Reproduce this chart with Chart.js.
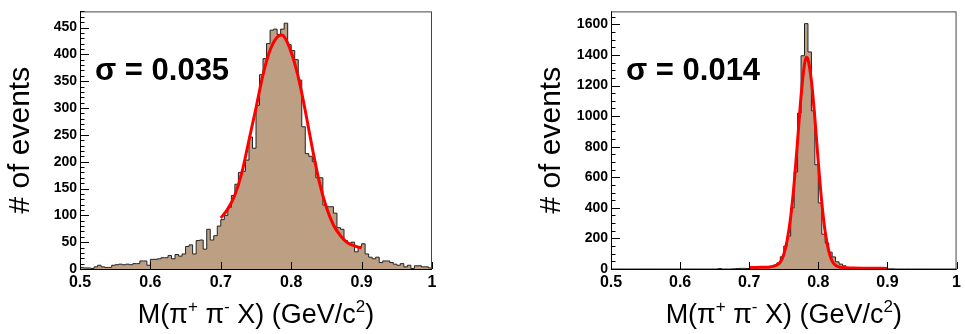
<!DOCTYPE html>
<html>
<head>
<meta charset="utf-8">
<script src="https://cdn.jsdelivr.net/npm/chart.js@4"></script>
<style>
  html, body { margin: 0; padding: 0; background: #fff; }
  #wrap { position: relative; width: 965px; height: 334px; overflow: hidden; }
  canvas { position: absolute; top: 0; }
</style>
</head>
<body>
<div id="wrap">
  <canvas id="leftChart" width="480" height="334" style="left:0px"></canvas>
  <canvas id="rightChart" width="485" height="334" style="left:480px"></canvas>
</div>
<script>
// histogram binning: 100 bins from 0.5 to 1.0 GeV/c^2
const binLow = 0.5;
const binWidth = 0.005;
const xTickLabels = ["0.5", "0.6", "0.7", "0.8", "0.9", "1"];
const sigmaLabels = ["σ = 0.035", "σ = 0.014"];

// left panel, counts per bin
const leftCounts = [
  3, 2, 2, 1, 4, 7, 4, 3, 3, 7,
  8, 9, 8, 9, 8, 10, 10, 15, 15, 7,
  18, 18, 19, 21, 21, 25, 19, 27, 24, 28,
  42, 45, 28, 53, 54, 37, 74, 54, 62, 80,
  92, 100, 115, 137, 158, 180, 182, 203, 246, 225,
  305, 362, 392, 420, 445, 447, 437, 447, 458, 418,
  407, 390, 352, 265, 215, 210, 200, 170, 170, 119,
  116, 116, 104, 77, 74, 53, 48, 50, 32, 42,
  47, 28, 22, 19, 22, 12, 15, 15, 12, 9,
  7, 10, 4, 7, 1, 6, 6, 4, 4, 2
];
// left panel, fitted curve
const leftFitX = [0.700, 0.710, 0.720, 0.730, 0.740, 0.750, 0.760, 0.770, 0.780, 0.786, 0.790,
  0.800, 0.810, 0.820, 0.830, 0.840, 0.850, 0.860, 0.870, 0.880, 0.890, 0.900];
const leftFitY = [95, 112, 138, 180, 240, 300, 362, 408, 432, 436, 433,
  404, 358, 295, 225, 162, 115, 82, 62, 49, 43, 39];

// right panel, counts per bin
const rightCounts = [
  0, 0, 0, 0, 0, 0, 0, 0, 0, 0,
  0, 0, 0, 0, 0, 0, 0, 0, 0, 0,
  0, 0, 0, 0, 0, 0, 0, 0, 0, 0,
  0, 3, 0, 0, 0, 1, 3, 4, 4, 3,
  5, 7, 8, 9, 12, 15, 17, 25, 40, 80,
  150, 215, 400, 635, 1020, 1395, 1605, 1420, 1035, 682,
  432, 228, 170, 110, 79, 47, 32, 21, 11, 6,
  4, 3, 2, 2, 1, 1, 1, 0, 0, 0,
  1, 1, 0, 0, 0, 0, 0, 0, 0, 0,
  0, 0, 0, 0, 0, 0, 0, 0, 0, 0
];
// right panel, fitted curve
const rightFitX = [0.700, 0.710, 0.720, 0.730, 0.740, 0.745, 0.750, 0.755, 0.760, 0.765, 0.770,
  0.775, 0.780, 0.7826, 0.785, 0.790, 0.795, 0.800, 0.805, 0.810, 0.815, 0.820, 0.825,
  0.830, 0.840, 0.850, 0.870, 0.900];
const rightFitY = [10, 10, 11, 13, 26, 45, 95, 190, 340, 560, 840,
  1130, 1340, 1385, 1372, 1230, 985, 695, 435, 240, 118, 52, 24,
  13, 8, 6, 5, 4];

const fontFamily = "'Liberation Sans', Arial, Helvetica, sans-serif";
const fillTan = "rgb(189,160,131)";

function histPoints(counts) {
  const pts = [{ x: binLow, y: 0 }];
  counts.forEach((c, i) => pts.push({ x: binLow + i * binWidth, y: c }));
  const end = binLow + counts.length * binWidth;
  pts.push({ x: end, y: counts[counts.length - 1] });
  pts.push({ x: end, y: 0 });
  return pts;
}

function fitPoints(xs, ys) {
  return xs.map((x, i) => ({ x: x, y: ys[i] }));
}

// draws ROOT style frame, inner ticks and the texts
function rootPlugin(cfg) {
  return {
    id: "rootStyle",
    afterDatasetsDraw(chart) {
      const ctx = chart.ctx;
      const a = chart.chartArea;
      const xs = chart.scales.x;
      const ys = chart.scales.y;
      ctx.save();

      // frame
      ctx.lineWidth = 1;
      ctx.strokeStyle = "#444";
      ctx.strokeRect(a.left + 0.5, a.top + 0.5, a.right - a.left - 1, a.bottom - a.top);
      ctx.strokeStyle = "#000";
      ctx.beginPath();
      ctx.moveTo(a.left + 0.5, a.top);
      ctx.lineTo(a.left + 0.5, a.bottom + 0.5);
      ctx.lineTo(a.right, a.bottom + 0.5);
      ctx.stroke();

      // y ticks (major + minor)
      ctx.beginPath();
      for (let v = 0; v <= cfg.yMax; v += cfg.yMinor) {
        const py = Math.round(ys.getPixelForValue(v)) + 0.5;
        const len = (v % cfg.yMajor === 0) ? 9 : 4.5;
        ctx.moveTo(a.left, py);
        ctx.lineTo(a.left + len, py);
      }
      // x ticks
      xTickLabels.forEach(lbl => {
        const px = Math.round(xs.getPixelForValue(parseFloat(lbl))) + 0.5;
        ctx.moveTo(px, a.bottom);
        ctx.lineTo(px, a.bottom - 7);
      });
      ctx.stroke();

      // sigma annotation
      ctx.fillStyle = "#000";
      ctx.font = "bold 31px " + fontFamily;
      ctx.textAlign = "left";
      ctx.textBaseline = "alphabetic";
      ctx.fillText(cfg.sigma, a.left + 15, 80);

      // y axis title
      ctx.save();
      ctx.translate(cfg.yTitleX, (a.top + a.bottom) / 2);
      ctx.rotate(-Math.PI / 2);
      ctx.font = "30px " + fontFamily;
      ctx.textAlign = "center";
      ctx.textBaseline = "middle";
      ctx.fillText("# of events", 0, 0);
      ctx.restore();

      // x axis title with superscripts
      const parts = [
        { t: "M(π", s: false }, { t: "+", s: true }, { t: " π", s: false },
        { t: "-", s: true }, { t: " X) (GeV/c", s: false }, { t: "2", s: true },
        { t: ")", s: false }
      ];
      const baseFont = "27px " + fontFamily;
      const supFont = "17px " + fontFamily;
      let total = 0;
      parts.forEach(p => {
        ctx.font = p.s ? supFont : baseFont;
        p.w = ctx.measureText(p.t).width;
        total += p.w;
      });
      let cx = (a.left + a.right) / 2 - total / 2;
      const base = 323;
      ctx.textAlign = "left";
      parts.forEach(p => {
        ctx.font = p.s ? supFont : baseFont;
        ctx.fillText(p.t, cx, p.s ? base - 11 : base);
        cx += p.w;
      });

      ctx.restore();
    }
  };
}

function makePanel(canvasId, counts, fitX, fitY, cfg) {
  const ctx = document.getElementById(canvasId).getContext("2d");
  return new Chart(ctx, {
    type: "line",
    data: {
      datasets: [
        {
          label: "histogram",
          data: histPoints(counts),
          stepped: true,
          borderColor: "#222",
          borderWidth: 1,
          backgroundColor: fillTan,
          fill: "origin",
          pointRadius: 0,
          order: 2,
        },
        {
          label: "fit",
          data: fitPoints(fitX, fitY),
          borderColor: "#ff0000",
          borderWidth: 3,
          cubicInterpolationMode: "monotone",
          fill: false,
          pointRadius: 0,
          order: 1,
        },
      ],
    },
    options: {
      responsive: false,
      devicePixelRatio: 1,
      animation: false,
      layout: { padding: { left: 0, right: cfg.padRight, top: 5, bottom: 0 } },
      plugins: { legend: { display: false }, tooltip: { enabled: false } },
      scales: {
        x: {
          type: "linear",
          min: 0.5,
          max: 1,
          grid: { display: false, drawTicks: false },
          border: { display: false },
          ticks: {
            stepSize: 0.1,
            padding: 4,
            color: "#000",
            maxRotation: 0,
            font: { family: fontFamily, size: 16, weight: "bold" },
            callback: (v) => {
              const s = String(Number(v.toFixed(1)));
              return xTickLabels.includes(s) ? s : "";
            },
          },
          afterFit: (scale) => { scale.height = 65; },
        },
        y: {
          min: 0,
          max: cfg.yMax,
          grid: { display: false, drawTicks: false },
          border: { display: false },
          ticks: {
            stepSize: cfg.yMajor,
            includeBounds: false,
            padding: 3,
            color: "#000",
            font: { family: fontFamily, size: 14, weight: "bold" },
            callback: (v) => String(v),
          },
          afterFit: (scale) => { scale.width = cfg.plotLeft; },
        },
      },
    },
    plugins: [rootPlugin(cfg)],
  });
}

makePanel("leftChart", leftCounts, leftFitX, leftFitY, {
  yMax: 480, yMajor: 50, yMinor: 10, plotLeft: 80, padRight: 48,
  yTitleX: 21, sigma: sigmaLabels[0],
});
makePanel("rightChart", rightCounts, rightFitX, rightFitY, {
  yMax: 1685, yMajor: 200, yMinor: 50, plotLeft: 131, padRight: 2,
  yTitleX: 72, sigma: sigmaLabels[1],
});
</script>
</body>
</html>
